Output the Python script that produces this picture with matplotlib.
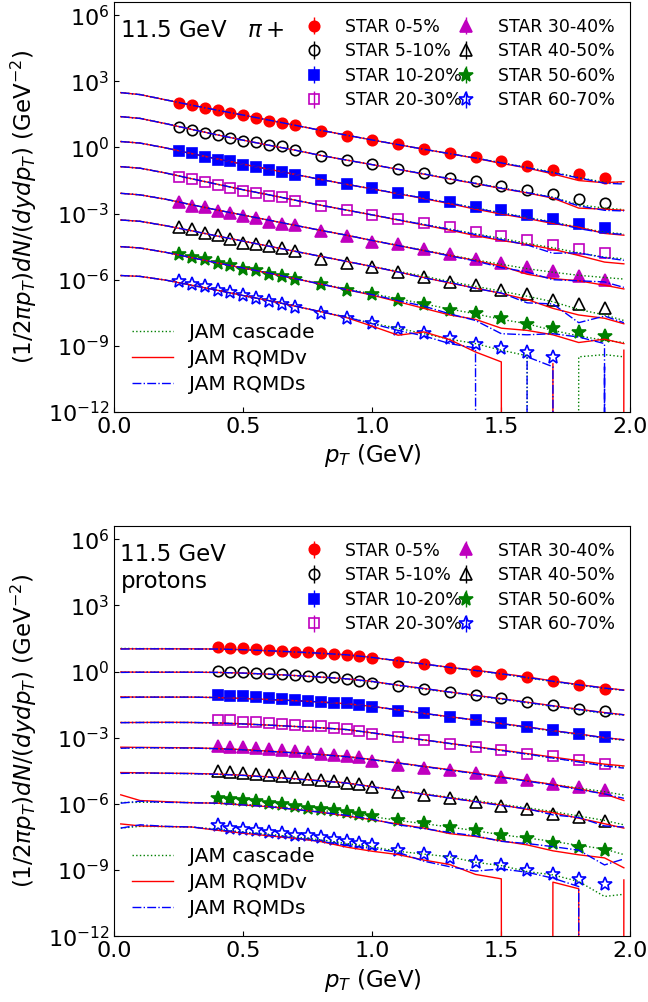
import numpy as np
import matplotlib
matplotlib.use('Agg')
import matplotlib.pyplot as plt
from matplotlib.ticker import FixedLocator, NullLocator, LogFormatterSciNotation, FormatStrFormatter

centralities = ['0-5%', '5-10%', '10-20%', '20-30%', '30-40%', '40-50%', '50-60%', '60-70%']

# STAR spectra, log10 of (1/2 pi pT) dN/(dy dpT)
pt_pion = [0.25, 0.30, 0.35, 0.40, 0.45, 0.50, 0.55, 0.60, 0.65, 0.70,
           0.8, 0.9, 1.0, 1.1, 1.2, 1.3, 1.4, 1.5, 1.6, 1.7, 1.8, 1.9]
pion_star = [
    [2.01, 1.92, 1.81, 1.69, 1.58, 1.47, 1.36, 1.22, 1.12, 1.01, 0.76, 0.54, 0.34, 0.15, -0.06, -0.24, -0.43, -0.62, -0.83, -1.02, -1.20, -1.38],
    [0.91, 0.80, 0.68, 0.58, 0.45, 0.30, 0.26, 0.11, 0.05, -0.12, -0.38, -0.57, -0.75, -0.98, -1.16, -1.37, -1.54, -1.76, -1.93, -2.13, -2.32, -2.52],
    [-0.15, -0.27, -0.41, -0.57, -0.60, -0.78, -0.87, -1.02, -1.09, -1.24, -1.46, -1.66, -1.86, -2.08, -2.26, -2.46, -2.68, -2.83, -3.06, -3.23, -3.46, -3.65],
    [-1.33, -1.42, -1.55, -1.70, -1.82, -1.96, -2.05, -2.20, -2.26, -2.41, -2.64, -2.83, -3.06, -3.25, -3.44, -3.63, -3.85, -4.01, -4.22, -4.42, -4.60, -4.80],
    [-2.49, -2.64, -2.71, -2.90, -2.99, -3.09, -3.20, -3.39, -3.47, -3.54, -3.77, -4.00, -4.30, -4.40, -4.60, -4.83, -5.05, -5.25, -5.43, -5.62, -5.85, -6.03],
    [-3.62, -3.72, -3.89, -3.96, -4.14, -4.34, -4.37, -4.49, -4.57, -4.72, -5.05, -5.25, -5.43, -5.66, -5.88, -6.11, -6.23, -6.48, -6.63, -6.90, -7.09, -7.27],
    [-4.82, -4.95, -5.05, -5.25, -5.31, -5.50, -5.58, -5.73, -5.81, -5.96, -6.21, -6.45, -6.63, -6.91, -7.12, -7.36, -7.51, -7.76, -7.99, -8.19, -8.37, -8.57],
    [-6.06, -6.18, -6.30, -6.48, -6.56, -6.71, -6.82, -6.97, -7.09, -7.24, -7.51, -7.76, -7.96, -8.22, -8.44, -8.64, -8.90, -9.08, -9.28, -9.53],
]

pt_proton = [0.40, 0.45, 0.50, 0.55, 0.60, 0.65, 0.70, 0.75, 0.80, 0.85, 0.90, 0.95, 1.00,
             1.1, 1.2, 1.3, 1.4, 1.5, 1.6, 1.7, 1.8, 1.9]
proton_star = [
    [1.11, 1.08, 1.05, 1.01, 0.97, 0.94, 0.90, 0.87, 0.83, 0.80, 0.76, 0.71, 0.61, 0.45, 0.35, 0.18, 0.04, -0.09, -0.26, -0.45, -0.60, -0.77],
    [0.03, 0.00, -0.03, -0.05, -0.08, -0.12, -0.15, -0.18, -0.23, -0.26, -0.33, -0.42, -0.53, -0.65, -0.80, -0.91, -1.07, -1.22, -1.36, -1.52, -1.69, -1.77],
    [-1.06, -1.10, -1.13, -1.16, -1.21, -1.24, -1.28, -1.33, -1.36, -1.41, -1.43, -1.51, -1.61, -1.77, -1.89, -2.07, -2.19, -2.34, -2.52, -2.64, -2.83, -2.98],
    [-2.19, -2.22, -2.27, -2.30, -2.34, -2.39, -2.43, -2.46, -2.49, -2.54, -2.60, -2.69, -2.82, -2.95, -3.10, -3.28, -3.40, -3.55, -3.73, -3.85, -4.00, -4.19],
    [-3.36, -3.40, -3.43, -3.47, -3.52, -3.55, -3.62, -3.66, -3.72, -3.78, -3.84, -3.89, -4.04, -4.25, -4.37, -4.46, -4.62, -4.76, -4.90, -5.12, -5.24, -5.39],
    [-4.50, -4.56, -4.61, -4.65, -4.71, -4.75, -4.80, -4.86, -4.92, -4.97, -5.04, -5.12, -5.24, -5.44, -5.59, -5.74, -5.90, -6.09, -6.24, -6.47, -6.60, -6.78],
    [-5.72, -5.78, -5.84, -5.89, -5.95, -6.02, -6.09, -6.17, -6.24, -6.30, -6.39, -6.47, -6.54, -6.73, -6.88, -7.03, -7.18, -7.41, -7.57, -7.77, -7.94, -8.09],
    [-6.98, -7.08, -7.14, -7.19, -7.26, -7.31, -7.39, -7.43, -7.50, -7.59, -7.68, -7.77, -7.86, -8.09, -8.26, -8.46, -8.63, -8.78, -9.00, -9.19, -9.43, -9.65],
]

# JAM histograms, log10 of the yield; None = empty bin
pt_jam = [0.025, 0.1, 0.2, 0.3, 0.4, 0.5, 0.6, 0.7, 0.8, 0.9, 1.0,
          1.1, 1.2, 1.3, 1.4, 1.5, 1.6, 1.7, 1.8, 1.9, 1.975]

pion_cascade = [
    [2.49, 2.40, 2.16, 1.92, 1.69, 1.47, 1.24, 1.01, 0.78, 0.56, 0.34, 0.13, -0.08, -0.28, -0.48, -0.69, -0.90, -1.12, -1.36, -1.58, -1.62],
    [1.40, 1.32, 1.08, 0.82, 0.57, 0.33, 0.10, -0.12, -0.36, -0.57, -0.78, -0.99, -1.20, -1.41, -1.62, -1.83, -2.04, -2.26, -2.60, -2.75, -2.82],
    [0.27, 0.20, -0.02, -0.28, -0.52, -0.76, -0.99, -1.22, -1.45, -1.67, -1.88, -2.09, -2.30, -2.52, -2.74, -2.96, -3.17, -3.38, -3.62, -3.85, -3.92],
    [-0.87, -0.94, -1.16, -1.42, -1.67, -1.92, -2.15, -2.39, -2.62, -2.84, -3.06, -3.28, -3.49, -3.70, -3.92, -4.12, -4.35, -4.55, -4.78, -4.98, -5.05],
    [-2.08, -2.15, -2.35, -2.60, -2.84, -3.07, -3.30, -3.53, -3.76, -3.98, -4.22, -4.44, -4.66, -4.88, -5.10, -5.30, -5.50, -5.66, -5.80, -5.90, -5.97],
    [-3.29, -3.35, -3.55, -3.78, -4.02, -4.25, -4.48, -4.71, -4.94, -5.17, -5.40, -5.62, -5.84, -6.08, -6.30, -6.52, -6.75, -7.00, -7.35, -7.60, -7.85],
    [-4.50, -4.56, -4.76, -5.00, -5.24, -5.47, -5.70, -5.94, -6.18, -6.42, -6.64, -6.86, -7.10, -7.33, -7.55, -7.80, -8.00, -8.30, -8.55, -8.75, -8.85],
    [-5.81, -5.85, -6.02, -6.25, -6.48, -6.72, -6.95, -7.20, -7.45, -7.70, -7.98, -8.20, -8.45, -8.70, -8.90, -9.20, -9.45, None, -9.50, -9.40, -9.50],
]
pion_rqmdv = [
    [2.49, 2.40, 2.16, 1.92, 1.69, 1.47, 1.24, 1.01, 0.78, 0.56, 0.34, 0.13, -0.08, -0.28, -0.49, -0.72, -0.93, -1.20, -1.50, -1.60, -1.55],
    [1.40, 1.32, 1.08, 0.82, 0.57, 0.33, 0.10, -0.12, -0.36, -0.57, -0.78, -0.99, -1.21, -1.43, -1.64, -1.86, -2.06, -2.30, -2.75, -2.80, -2.85],
    [0.27, 0.20, -0.02, -0.28, -0.52, -0.76, -0.99, -1.22, -1.45, -1.67, -1.88, -2.10, -2.32, -2.55, -2.80, -3.02, -3.22, -3.45, -3.62, -3.90, -3.98],
    [-0.87, -0.94, -1.16, -1.42, -1.67, -1.92, -2.15, -2.39, -2.62, -2.84, -3.06, -3.29, -3.52, -3.75, -4.00, -4.22, -4.40, -4.62, -4.90, -5.20, -5.28],
    [-2.08, -2.15, -2.35, -2.60, -2.84, -3.07, -3.30, -3.53, -3.76, -3.98, -4.22, -4.45, -4.68, -4.90, -5.13, -5.38, -5.75, -5.95, -6.05, -6.25, -6.42],
    [-3.29, -3.35, -3.55, -3.78, -4.02, -4.25, -4.48, -4.71, -4.94, -5.17, -5.40, -5.65, -5.90, -6.15, -6.38, -6.62, -6.90, -7.30, -7.60, -7.75, -8.00],
    [-4.50, -4.56, -4.76, -5.00, -5.24, -5.47, -5.71, -5.95, -6.20, -6.45, -6.70, -7.00, -7.30, -7.60, -7.80, -8.20, -8.30, -8.50, -8.85, -8.70, -8.90],
    [-5.81, -5.85, -6.02, -6.25, -6.48, -6.72, -6.95, -7.20, -7.45, -7.72, -8.11, -8.52, -8.37, -8.72, -9.28, -9.73, None, -9.80, None, None, -9.20],
]
pion_rqmds = [
    [2.49, 2.40, 2.16, 1.92, 1.69, 1.47, 1.24, 1.01, 0.78, 0.56, 0.34, 0.13, -0.08, -0.28, -0.48, -0.70, -0.92, -1.15, -1.38, -1.62, -1.66],
    [1.40, 1.32, 1.08, 0.82, 0.57, 0.33, 0.10, -0.12, -0.36, -0.57, -0.78, -0.99, -1.20, -1.42, -1.63, -1.85, -2.05, -2.27, -2.65, -2.85, -2.88],
    [0.27, 0.20, -0.02, -0.28, -0.52, -0.76, -0.99, -1.22, -1.45, -1.67, -1.88, -2.09, -2.30, -2.52, -2.76, -2.98, -3.20, -3.40, -3.68, -3.88, -3.95],
    [-0.87, -0.94, -1.16, -1.42, -1.67, -1.92, -2.15, -2.39, -2.62, -2.84, -3.06, -3.28, -3.50, -3.72, -3.95, -4.18, -4.42, -4.80, -4.78, -5.00, -5.12],
    [-2.08, -2.15, -2.35, -2.60, -2.84, -3.07, -3.30, -3.53, -3.76, -3.98, -4.22, -4.45, -4.68, -4.92, -5.15, -5.45, -5.65, -6.00, -6.05, -6.10, -6.35],
    [-3.29, -3.35, -3.55, -3.78, -4.02, -4.25, -4.48, -4.71, -4.94, -5.17, -5.40, -5.65, -5.92, -6.12, -6.40, -6.60, -7.05, -7.10, -7.95, -7.65, -7.95],
    [-4.50, -4.56, -4.76, -5.00, -5.24, -5.47, -5.70, -5.95, -6.20, -6.45, -6.68, -6.95, -7.20, -7.55, -7.85, -8.45, -8.50, -8.45, -8.60, -8.90, None],
    [-5.81, -5.85, -6.02, -6.25, -6.48, -6.72, -6.95, -7.20, -7.45, -7.70, -8.00, -8.30, -8.55, -8.90, -9.10, None, -9.50, -9.95, None, -9.95, None],
]

proton_cascade = [
    [1.05, 1.04, 1.04, 1.03, 1.02, 0.99, 0.94, 0.88, 0.82, 0.75, 0.63, 0.48, 0.33, 0.18, 0.04, -0.11, -0.29, -0.45, -0.62, -0.77, -0.85],
    [-0.03, -0.03, -0.03, -0.03, -0.04, -0.08, -0.13, -0.19, -0.26, -0.35, -0.47, -0.64, -0.80, -0.95, -1.10, -1.26, -1.42, -1.58, -1.74, -1.90, -1.98],
    [-1.16, -1.16, -1.16, -1.16, -1.18, -1.22, -1.27, -1.32, -1.39, -1.47, -1.59, -1.75, -1.91, -2.06, -2.21, -2.38, -2.54, -2.70, -2.86, -3.02, -3.12],
    [-2.31, -2.31, -2.31, -2.31, -2.33, -2.38, -2.43, -2.49, -2.56, -2.64, -2.79, -2.96, -3.11, -3.27, -3.43, -3.58, -3.75, -3.92, -4.08, -4.24, -4.34],
    [-3.47, -3.46, -3.46, -3.47, -3.50, -3.55, -3.62, -3.69, -3.77, -3.87, -4.00, -4.15, -4.31, -4.47, -4.63, -4.79, -4.96, -5.12, -5.28, -5.45, -5.60],
    [-4.61, -4.61, -4.62, -4.63, -4.66, -4.71, -4.79, -4.87, -4.96, -5.05, -5.22, -5.38, -5.54, -5.70, -5.85, -6.02, -6.18, -6.35, -6.55, -6.75, -6.95],
    [-5.94, -5.93, -5.93, -5.94, -5.96, -6.02, -6.10, -6.20, -6.30, -6.42, -6.58, -6.75, -6.90, -7.05, -7.22, -7.40, -7.55, -7.70, -7.88, -8.05, -8.30],
    [-7.10, -7.02, -7.03, -7.05, -7.15, -7.28, -7.38, -7.50, -7.63, -7.80, -7.95, -8.15, -8.28, -8.40, -8.65, -8.80, -9.07, -9.22, -9.52, -10.20, -10.10],
]
proton_rqmdv = [
    [1.03, 1.03, 1.03, 1.03, 1.02, 0.99, 0.94, 0.89, 0.83, 0.76, 0.64, 0.48, 0.34, 0.19, 0.06, -0.09, -0.24, -0.43, -0.59, -0.74, -0.84],
    [-0.02, -0.03, -0.03, -0.03, -0.04, -0.07, -0.12, -0.18, -0.25, -0.33, -0.45, -0.62, -0.77, -0.93, -1.08, -1.23, -1.39, -1.55, -1.71, -1.86, -1.96],
    [-1.15, -1.16, -1.16, -1.16, -1.18, -1.22, -1.27, -1.32, -1.38, -1.46, -1.58, -1.74, -1.90, -2.05, -2.20, -2.36, -2.51, -2.68, -2.83, -3.00, -3.09],
    [-2.31, -2.31, -2.30, -2.31, -2.33, -2.37, -2.43, -2.49, -2.55, -2.63, -2.78, -2.95, -3.10, -3.26, -3.41, -3.56, -3.72, -3.88, -4.04, -4.20, -4.28],
    [-3.43, -3.44, -3.45, -3.46, -3.49, -3.54, -3.61, -3.68, -3.76, -3.85, -3.99, -4.14, -4.30, -4.45, -4.61, -4.77, -4.95, -5.12, -5.32, -5.55, -5.85],
    [-4.58, -4.59, -4.61, -4.62, -4.65, -4.70, -4.78, -4.86, -4.95, -5.05, -5.22, -5.40, -5.56, -5.73, -5.90, -6.05, -6.25, -6.40, -6.65, -6.90, -7.10],
    [-5.59, -5.85, -5.90, -5.95, -5.97, -6.05, -6.13, -6.25, -6.38, -6.55, -6.72, -6.92, -7.10, -7.35, -7.48, -7.68, -7.86, -8.13, -8.31, -8.45, -8.90],
    [-6.91, -7.00, -7.03, -7.05, -7.20, -7.33, -7.45, -7.56, -7.71, -7.96, -8.15, -8.30, -8.55, -8.75, -9.20, -9.40, None, -9.55, -9.85, None, -9.45],
]
proton_rqmds = [
    [1.02, 1.03, 1.03, 1.02, 1.02, 0.99, 0.94, 0.89, 0.83, 0.76, 0.64, 0.49, 0.34, 0.19, 0.05, -0.10, -0.27, -0.44, -0.60, -0.75, -0.85],
    [-0.04, -0.03, -0.03, -0.03, -0.04, -0.07, -0.12, -0.18, -0.25, -0.33, -0.45, -0.62, -0.77, -0.93, -1.08, -1.24, -1.40, -1.56, -1.72, -1.87, -1.96],
    [-1.18, -1.16, -1.16, -1.16, -1.18, -1.22, -1.27, -1.32, -1.38, -1.46, -1.58, -1.74, -1.90, -2.05, -2.20, -2.36, -2.52, -2.68, -2.84, -3.00, -3.10],
    [-2.32, -2.31, -2.31, -2.31, -2.33, -2.38, -2.43, -2.49, -2.55, -2.63, -2.78, -2.95, -3.10, -3.26, -3.42, -3.58, -3.74, -3.92, -4.10, -4.28, -4.38],
    [-3.48, -3.45, -3.46, -3.47, -3.50, -3.55, -3.62, -3.69, -3.77, -3.86, -4.00, -4.15, -4.31, -4.47, -4.63, -4.80, -4.97, -5.15, -5.35, -5.55, -5.75],
    [-4.62, -4.60, -4.61, -4.63, -4.66, -4.71, -4.79, -4.87, -4.96, -5.06, -5.23, -5.40, -5.57, -5.74, -5.90, -6.08, -6.22, -6.50, -6.62, -7.00, -7.05],
    [-5.97, -5.88, -5.93, -5.95, -5.97, -6.05, -6.13, -6.25, -6.38, -6.52, -6.70, -6.95, -7.12, -7.30, -7.45, -7.70, -7.80, -7.94, -8.10, -8.77, -8.50],
    [-7.10, -6.95, -7.02, -7.05, -7.18, -7.30, -7.42, -7.55, -7.70, -7.88, -8.02, -8.20, -8.60, -8.85, -9.05, -8.95, -9.10, -9.37, -9.75, None, None],
]

# marker, colour, filled
star_style = [('o', 'r', True), ('o', 'k', False), ('s', 'b', True), ('s', 'm', False),
              ('^', 'm', True), ('^', 'k', False), ('*', 'g', True), ('*', 'b', False)]
marker_size = {'o': 7.5, 's': 6.5, '^': 8, '*': 10}

models = [('JAM cascade', 'g', ':'), ('JAM RQMDv', 'r', '-'), ('JAM RQMDs', 'b', '-.')]


def to_yield(logs):
    return np.array([0.0 if v is None else 10.0 ** v for v in logs])


def draw_panel(ax, pt, star, jam, label):
    star_handles = []
    for name, logs, (mk, col, filled) in zip(centralities, star, star_style):
        y = to_yield(logs)
        h = ax.errorbar(pt[:len(y)], y, yerr=np.zeros_like(y), fmt=mk, color=col,
                        mfc=col if filled else 'none', mec=col, mew=1.2,
                        ms=marker_size[mk], elinewidth=1.0, capsize=0,
                        label='STAR ' + name, zorder=2)
        star_handles.append(h)

    model_handles = []
    for (name, col, ls), curves in zip(models, jam):
        for i, logs in enumerate(curves):
            line, = ax.plot(pt_jam, to_yield(logs), color=col, ls=ls, lw=1.0,
                            zorder=3, label=name if i == 0 else None)
            if i == 0:
                model_handles.append(line)

    ax.set_yscale('log', nonpositive='clip')
    ax.set_xlim(0, 2.0)
    ax.set_ylim(1e-12, 4e6)
    ax.yaxis.set_major_locator(FixedLocator([1e-12, 1e-9, 1e-6, 1e-3, 1e0, 1e3, 1e6]))
    ax.yaxis.set_major_formatter(LogFormatterSciNotation())
    ax.yaxis.set_minor_locator(NullLocator())
    ax.xaxis.set_major_locator(FixedLocator([0.0, 0.5, 1.0, 1.5, 2.0]))
    ax.xaxis.set_major_formatter(FormatStrFormatter('%.1f'))
    ax.tick_params(direction='in', labelsize=16)

    ax.set_xlabel(r'$p_T$ (GeV)', fontsize=16.5)
    ax.set_ylabel(r'$(1/2\pi p_T)dN/(dydp_T)$ (GeV$^{-2}$)', fontsize=16.5, labelpad=6)

    ax.text(0.012, 0.958, label, transform=ax.transAxes, fontsize=16.5,
            va='top', ha='left', linespacing=1.2)

    leg1 = ax.legend(handles=star_handles, loc='upper right', ncol=2, frameon=False,
                     fontsize=12.5, columnspacing=-0.75, labelspacing=0.38,
                     handletextpad=0.8, borderaxespad=0.5)
    ax.add_artist(leg1)
    ax.legend(handles=model_handles, loc='lower left', frameon=False,
              fontsize=14.5, labelspacing=0.34)


fig = plt.figure(figsize=(6.48, 10.02), dpi=100)
ax_pi = fig.add_axes([0.1764, 0.5889, 0.7963, 0.4091])
ax_p = fig.add_axes([0.1764, 0.0657, 0.7963, 0.4094])

draw_panel(ax_pi, pt_pion, pion_star, [pion_cascade, pion_rqmdv, pion_rqmds],
           '11.5 GeV   $\\pi+$')
draw_panel(ax_p, pt_proton, proton_star, [proton_cascade, proton_rqmdv, proton_rqmds],
           '11.5 GeV\nprotons')

fig.savefig('out.png', dpi=100)
